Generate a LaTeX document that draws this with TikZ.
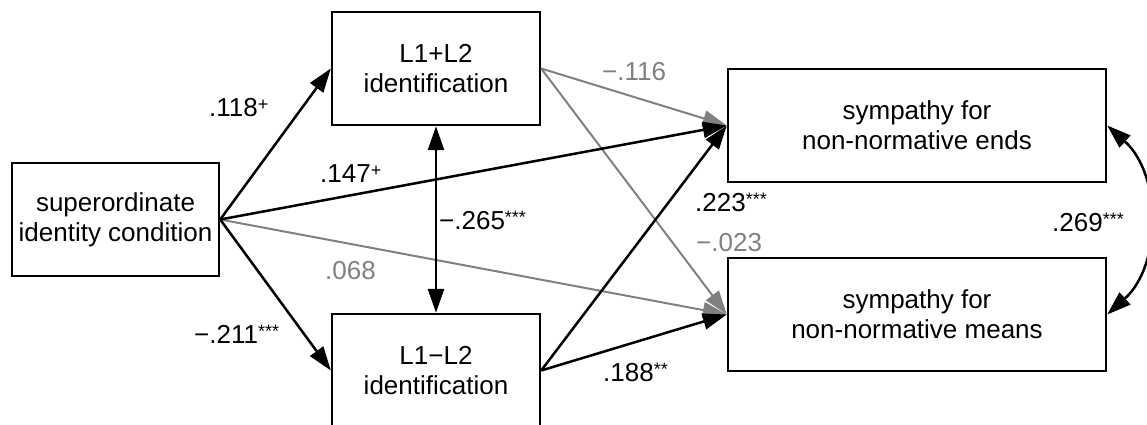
\documentclass[tikz,border=0pt]{standalone}
\usepackage{fontspec}
\setmainfont{Liberation Sans}
\usetikzlibrary{arrows.meta}

% significance marks set small and raised
\newcommand\sigmark[1]{\raisebox{6pt}{\fontsize{18}{18}\selectfont #1}}

\definecolor{ns}{RGB}{128,128,128}

\begin{document}
\begin{tikzpicture}[x=1pt,y=-1pt,
  every node/.style={font=\fontsize{26}{30}\selectfont},
  var/.style={draw, line width=2.4pt, inner sep=0pt, align=center, minimum height=113pt},
  path/.style={line width=2.5pt, -{Triangle[length=24pt,width=16pt]}},
  weak/.style={path, ns, line width=2pt},
  coef/.style={anchor=base west, inner sep=0pt},
  weakcoef/.style={coef, text=ns}]
\useasboundingbox (0,0) rectangle (1147,425);
\clip (0,0) rectangle (1147,425);

% variables
\node[var, minimum width=207pt] (sup) at (115.5,219.5) {superordinate\\identity condition};
\node[var, minimum width=208pt] (plus) at (436,68.5) {L1+L2\\identification};
\node[var, minimum width=208pt] (minus) at (436,370.5) {L1−L2\\identification};
\node[var, minimum width=378pt] (ends) at (917,125.5) {sympathy for\\non-normative ends};
\node[var, minimum width=378pt] (means) at (917,314.5) {sympathy for\\non-normative means};

% non-significant paths
\draw[weak] (plus.east) -- (ends.west);
\draw[weak] (plus.east) -- (means.west);
\draw[weak] (sup.east) -- (means.west);

% significant paths
\draw[path] (sup.east) -- (plus.west);
\draw[path] (sup.east) -- (minus.west);
\draw[path] (sup.east) -- (ends.west);
\draw[path] (minus.east) -- (ends.west);
\draw[path] (minus.east) -- (means.west);

% covariances
\draw[path, {Triangle[length=24pt,width=16pt]}-{Triangle[length=24pt,width=16pt]}] (plus.south) -- (minus.north);
\draw[path, {Triangle[length=24pt,width=16pt]}-{Triangle[length=24pt,width=16pt]}] (ends.east) to[out=-42,in=42] (means.east);

% coefficients
\node[coef] (c1) at (209,117) {.118\sigmark{+}};
\node[coef] (c2) at (320,182) {.147\sigmark{+}};
\node[weakcoef] (c3) at (325,279) {.068};
\node[coef] (c4) at (194,343) {−.211\sigmark{***}};
\node[coef] (c5) at (439,229) {−.265\sigmark{***}};
\node[weakcoef] (c6) at (602,81) {−.116};
\node[coef] (c7) at (695,211) {.223\sigmark{***}};
\node[weakcoef] (c8) at (696,251) {−.023};
\node[coef] (c9) at (603,381) {.188\sigmark{**}};
\node[coef] (c10) at (1052,231) {.269\sigmark{***}};
\end{tikzpicture}
\end{document}
